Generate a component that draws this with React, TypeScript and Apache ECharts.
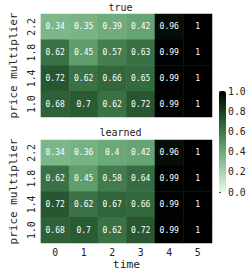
import React, { useEffect, useRef } from "react";
import * as echarts from "echarts";

const timeSteps = ["0", "1", "2", "3", "4", "5"];
const priceMultipliers = ["1.0", "1.4", "1.8", "2.2"]; // bottom to top
const colorbarTicks = [0, 0.2, 0.4, 0.6, 0.8, 1.0];

// rows listed top (2.2) to bottom (1.0)
const trueRows = [
  [0.34, 0.35, 0.39, 0.42, 0.96, 1],
  [0.62, 0.45, 0.57, 0.63, 0.99, 1],
  [0.72, 0.62, 0.66, 0.65, 0.99, 1],
  [0.68, 0.7, 0.62, 0.72, 0.99, 1],
];
const learnedRows = [
  [0.34, 0.36, 0.4, 0.42, 0.96, 1],
  [0.62, 0.45, 0.58, 0.64, 0.99, 1],
  [0.72, 0.62, 0.67, 0.66, 0.99, 1],
  [0.68, 0.7, 0.62, 0.72, 0.99, 1],
];

const palette = [
  "#ebf7ed", "#c7e6cd", "#a6d3af", "#88bf93", "#6ca978", "#549160",
  "#3e7749", "#2a5c34", "#193f21", "#0b2010", "#000000",
];

const FONT = "DejaVu Sans Mono";

function toCells(rows: number[][]) {
  const out: [number, number, number][] = [];
  const n = rows.length;
  rows.forEach((row, ri) => {
    row.forEach((v, ci) => {
      out.push([ci, n - 1 - ri, v]);
    });
  });
  return out;
}

export default function App() {
  const ref = useRef<HTMLDivElement>(null);
  useEffect(() => {
    if (!ref.current) return;
    const chart = echarts.init(ref.current, undefined, { renderer: "svg" });
    const gridL = 29, gridW = 183, gridH = 103;
    const yAxisCommon = (gi: number) => ({
      type: "category" as const,
      gridIndex: gi,
      data: priceMultipliers,
      axisLine: { show: false },
      axisTick: { show: false },
      axisLabel: { rotate: 90, fontFamily: FONT, fontSize: 9.8, color: "#222", margin: 4 },
      name: "price multiplier",
      nameLocation: "middle" as const,
      nameRotate: 90,
      nameGap: 15,
      nameTextStyle: { fontFamily: FONT, fontSize: 11, color: "#222" },
    });
    const label = {
      show: true,
      color: "#ffffff",
      fontFamily: FONT,
      fontSize: 8,
      formatter: (p: any) => String(p.value[2]),
    };
    chart.setOption({
      animation: false,
      title: [
        { text: "true", left: 120.5, top: 2, textAlign: "center", padding: 0,
          textStyle: { fontFamily: FONT, fontSize: 10, fontWeight: "normal", color: "#222" } },
        { text: "learned", left: 120.5, top: 127, textAlign: "center", padding: 0,
          textStyle: { fontFamily: FONT, fontSize: 10, fontWeight: "normal", color: "#222" } },
      ],
      grid: [
        { left: gridL, top: 14, width: gridW, height: gridH },
        { left: gridL, top: 140, width: gridW, height: gridH },
        { left: 219, top: 91, width: 7, height: 101 },
      ],
      xAxis: [
        { type: "category", gridIndex: 0, data: timeSteps, axisLine: { show: false },
          axisTick: { show: false }, axisLabel: { show: false } },
        { type: "category", gridIndex: 1, data: timeSteps, axisLine: { show: false },
          axisTick: { show: false },
          axisLabel: { fontFamily: FONT, fontSize: 9.8, color: "#222", margin: 4 },
          name: "time", nameLocation: "middle", nameGap: 16,
          nameTextStyle: { fontFamily: FONT, fontSize: 11.3, color: "#222" } },
        { type: "value", gridIndex: 2, show: false, min: 0, max: 1 },
      ],
      yAxis: [
        yAxisCommon(0),
        yAxisCommon(1),
        { type: "value", gridIndex: 2, position: "right", min: 0, max: 1, interval: 0.2,
          splitLine: { show: false }, axisLine: { show: false },
          axisTick: { show: true, length: 2, lineStyle: { color: "#444" } },
          axisLabel: { fontFamily: FONT, fontSize: 9.8, color: "#222", margin: 2,
            formatter: (v: number) => (colorbarTicks.includes(Math.round(v * 10) / 10) ? v.toFixed(1) : "") } },
      ],
      visualMap: {
        type: "continuous",
        min: 0,
        max: 1,
        seriesIndex: [0, 1],
        show: true,
        calculable: false,
        left: 219,
        top: 91,
        itemWidth: 7,
        itemHeight: 101,
        padding: 0,
        inRange: { color: palette },
      },
      series: [
        { type: "heatmap", xAxisIndex: 0, yAxisIndex: 0, data: toCells(trueRows), label,
          emphasis: { disabled: true } },
        { type: "heatmap", xAxisIndex: 1, yAxisIndex: 1, data: toCells(learnedRows), label,
          emphasis: { disabled: true } },
      ],
    });
    return () => chart.dispose();
  }, []);
  return (
    <div
      ref={ref}
      style={{ position: "fixed", left: 0, top: 0, width: 249, height: 274, background: "#fff" }}
    />
  );
}
